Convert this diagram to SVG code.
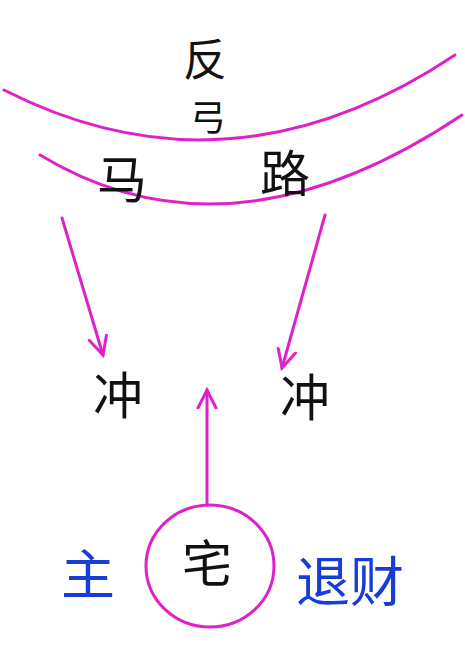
<svg xmlns="http://www.w3.org/2000/svg" width="465" height="648" viewBox="0 0 465 648">
<style>
.ln{fill:none;stroke:#e020c8;stroke-width:3;stroke-linecap:round}
.k{font-family:"Noto Sans CJK SC",sans-serif;fill:#111;font-size:50px;text-anchor:middle}
.b{font-family:"Noto Sans CJK SC",sans-serif;fill:#1a3cd6;font-size:54px;text-anchor:middle}
</style>
<defs>
<marker id="ah" markerWidth="22" markerHeight="22" refX="19" refY="11" orient="auto" markerUnits="userSpaceOnUse">
<path d="M1,2 L19,11 L1,20" fill="none" stroke="#e020c8" stroke-width="3" stroke-linecap="round"/>
</marker>
</defs>
<rect width="465" height="648" fill="#fff"/>
<g id="road">
<path class="ln" d="M4,90 Q230,205 455,55"/>
<path class="ln" d="M40,155 Q230,270 462,115"/>
<text class="k" x="205" y="76" style="font-size:44px">反</text>
<text class="k" x="208" y="131" style="font-size:36px">弓</text>
<text class="k" x="122" y="198">马</text>
<text class="k" x="285" y="192">路</text>
</g>
<g id="chong1"><text class="k" x="118" y="414">冲</text></g>
<g id="chong2"><text class="k" x="305" y="416">冲</text></g>
<g id="house">
<ellipse cx="210" cy="566" rx="64" ry="61" class="ln"/>
<text class="k" x="207" y="582">宅</text>
</g>
<g id="zhu"><text class="b" x="88" y="595">主</text></g>
<g id="tuicai"><text class="b" x="350" y="602">退财</text></g>
<g id="connectors">
<path class="ln" d="M62,218 L103,355" marker-end="url(#ah)"/>
<path class="ln" d="M325,215 L282,368" marker-end="url(#ah)"/>
<path class="ln" d="M207,505 L207,390" marker-end="url(#ah)"/>
</g>
</svg>
